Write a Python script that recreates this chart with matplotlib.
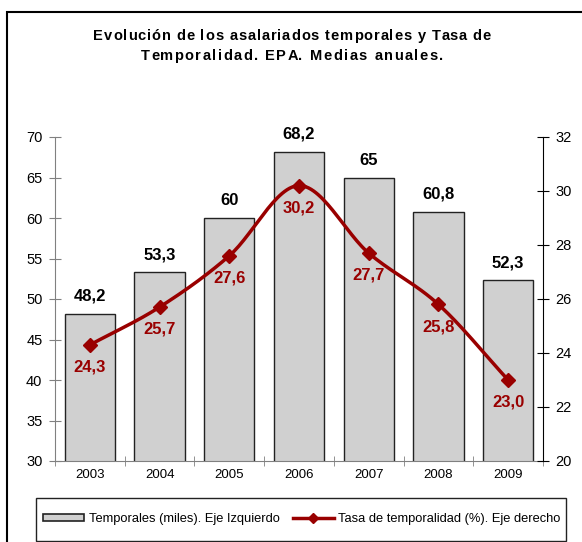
import numpy as np
import matplotlib
matplotlib.use("Agg")
import matplotlib.pyplot as plt
from matplotlib.patches import Rectangle, Patch
from matplotlib.lines import Line2D

# ---------------- Datos ----------------
years = ["2003", "2004", "2005", "2006", "2007", "2008", "2009"]
temporales = [48.2, 53.3, 60.0, 68.2, 65.0, 60.8, 52.3]
temporales_lbl = ["48,2", "53,3", "60", "68,2", "65", "60,8", "52,3"]
tasa = [24.3, 25.7, 27.6, 30.2, 27.7, 25.8, 23.0]
tasa_lbl = ["24,3", "25,7", "27,6", "30,2", "27,7", "25,8", "23,0"]

RED = "#990000"
plt.rcParams["font.family"] = ["Liberation Sans", "DejaVu Sans"]


def smooth(x, y, n=30):
    # curva suavizada tipo Excel (Catmull-Rom)
    x = np.asarray(x, float)
    y = np.asarray(y, float)
    px = np.concatenate([[2 * x[0] - x[1]], x, [2 * x[-1] - x[-2]]])
    py = np.concatenate([[2 * y[0] - y[1]], y, [2 * y[-1] - y[-2]]])
    xs, ys = [], []
    t = np.linspace(0, 1, n)
    for i in range(1, len(px) - 2):
        for p, out in ((px, xs), (py, ys)):
            p0, p1, p2, p3 = p[i - 1], p[i], p[i + 1], p[i + 2]
            out.extend(0.5 * ((2 * p1) + (-p0 + p2) * t
                              + (2 * p0 - 5 * p1 + 4 * p2 - p3) * t ** 2
                              + (-p0 + 3 * p1 - 3 * p2 + p3) * t ** 3))
    return np.array(xs), np.array(ys)


def tracked_text(fig, xc, yc, s, track, **kw):
    # texto centrado con espaciado extra entre letras (px)
    r = fig.canvas.get_renderer()

    def width(txt):
        t = fig.text(0, 0, txt, **kw)
        w = t.get_window_extent(r).width
        t.remove()
        return w

    ref = width("x")
    offs = [width(s[:i] + "x") - ref if i else 0 for i in range(len(s))]
    total = width(s) + track * (len(s) - 1)
    x0 = xc - total / 2
    for i, ch in enumerate(s):
        if ch == " ":
            continue
        fig.text((x0 + offs[i] + i * track) / fig.bbox.width, yc, ch,
                 ha="left", va="center", **kw)


fig = plt.figure(figsize=(5.82, 5.42), dpi=100)
ax = fig.add_axes([55 / 582, 1 - 461 / 542, (543 - 55) / 582, (461 - 137) / 542])
ax2 = ax.twinx()

x = np.arange(len(years))
ax.bar(x, temporales, width=0.72, color="#d0d0d0", edgecolor="#222222", linewidth=1.0, zorder=2)
ax.set_ylim(30, 70)
ax.set_xlim(-0.5, len(years) - 0.5)
ax.set_yticks(np.arange(30, 71, 5))
ax.set_xticks(x)
ax.set_xticklabels(years)
ax.set_xticks(np.arange(-0.5, len(years), 1), minor=True)
ax.tick_params(axis="x", which="major", length=0, labelsize=9.5, pad=6)
ax.tick_params(axis="x", which="minor", length=7, direction="inout", color="#808080")
ax.tick_params(axis="y", length=8, direction="inout", color="#808080", labelsize=10.5, pad=5)

for s in ["top", "right"]:
    ax.spines[s].set_visible(False)
ax2.spines["top"].set_visible(False)
ax2.spines["left"].set_visible(False)
ax2.spines["bottom"].set_visible(False)
ax.spines["left"].set_color("#808080")
ax.spines["bottom"].set_color("#808080")
ax2.spines["right"].set_color("black")

for xi, v, lbl in zip(x, temporales, temporales_lbl):
    ax.text(xi, v + 1.2, lbl, ha="center", va="bottom", fontsize=12, fontweight="bold", color="black")

sx, sy = smooth(x, tasa)
ax2.plot(sx, sy, color=RED, linewidth=2.5, zorder=3)
ax2.plot(x, tasa, linestyle="none", marker="D", markersize=7, color=RED, zorder=4)
ax2.set_ylim(20, 32)
ax2.set_yticks(np.arange(20, 33, 2))
ax2.tick_params(axis="y", length=8, direction="inout", color="black", labelsize=10.5, pad=5)

for xi, v, lbl in zip(x, tasa, tasa_lbl):
    ax2.text(xi, v - 0.55, lbl, ha="center", va="top", fontsize=12, fontweight="bold", color=RED)

tracked_text(fig, 292, 1 - 36 / 542, "Evolución de los asalariados temporales y Tasa de",
             0.9, fontsize=10.5, fontweight="bold")
tracked_text(fig, 292, 1 - 56 / 542, "Temporalidad. EPA. Medias anuales.",
             1.5, fontsize=10.5, fontweight="bold")

# marco exterior
fig.patches.append(Rectangle((7 / 582, -0.1), 1.2, 1 - 12 / 542 + 0.1, transform=fig.transFigure,
                             fill=False, edgecolor="black", linewidth=1.5))
# caja de la leyenda
fig.patches.append(Rectangle((36 / 582, 1 - 541 / 542), (566 - 36) / 582, (541 - 498) / 542,
                             transform=fig.transFigure, fill=False, edgecolor="#222222", linewidth=1.0))

handles = [Patch(facecolor="#d0d0d0", edgecolor="#222222", linewidth=1.2),
           Line2D([], [], color=RED, linewidth=2.5, marker="D", markersize=5)]
fig.legend(handles, ["Temporales (miles). Eje Izquierdo", "Tasa de temporalidad (%). Eje derecho"],
           loc="center left", bbox_to_anchor=(43 / 582, 1 - 519 / 542), ncol=2, frameon=False,
           borderpad=0, borderaxespad=0, handleheight=0.5,
           fontsize=9.3, handlelength=3.2, handletextpad=0.35, columnspacing=1.0)

fig.savefig("out.png", dpi=100)
